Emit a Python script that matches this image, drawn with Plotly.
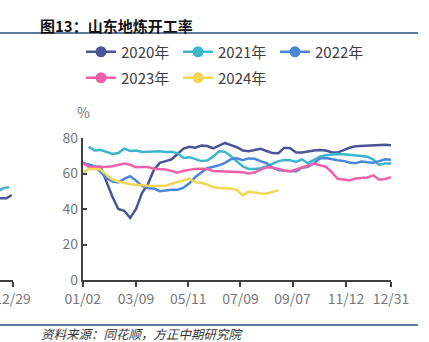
import plotly.graph_objects as go

W, H = 429, 342
# main plot area in pixels
PX0, PX1 = 82.7, 391.0
PT, PB = 138, 280  # y pixel of top (80) and bottom (0)

weeks = list(range(53))
tick_pos = [0, 9, 17.8, 26.6, 35.4, 44.4, 52]
tick_text = ["01/02", "03/09", "05/11", "07/09", "09/07", "11/12", "12/31"]

y2020 = [66, 65, 64, 63.8, 55, 47, 40, 39, 35, 40, 49, 54, 62, 66, 67, 68, 71, 74, 75, 74.5,
         75.7, 75.5, 74.2, 75.5, 77.2, 76, 74.8, 73, 72.5, 73.2, 73.9, 72.7, 71.5, 71.4, 74.5,
         74.2, 71.8, 71.9, 72.5, 73, 73.2, 73, 72, 71.8, 73.2, 74.5, 75.3, 75.5, 75.6, 76.2,
         76.4, 76.2, 75.9]
y2021 = [None, 75, 73, 73.3, 72, 71, 71.5, 74, 72.7, 73, 72.1, 72.2, 72.6, 72.6, 72.1, 72.3,
         71.5, 68.8, 69.2, 68.3, 67, 67.3, 69.5, 72.5, 72.2, 69.7, 66.6, 64, 62.6, 62.5, 63,
         64, 65.5, 67, 67.6, 67.5, 66.5, 68, 65.8, 67.8, 69.5, 70.3, 70.7, 71, 70.9, 70.7,
         70.4, 69.9, 69.4, 68, 64.9, 65.7, 65.7]
y2022 = [66, 64.8, 63.8, 61, 57.5, 55.5, 55, 57, 58.5, 56, 53, 51.7, 51.5, 50, 50.5, 50.8,
         50.8, 52, 54.5, 58, 60.6, 63, 63.8, 64.6, 66, 68, 68.6, 67.5, 68.5, 68.3, 67, 65.8,
         63.3, 62, 61.5, 61.2, 61.3, 63.3, 63.8, 65.6, 68.4, 68.7, 68, 67.5, 67.1, 66.2, 65.8,
         66.7, 66.3, 66, 67, 68, 67.7]
y2023 = [66, 63.8, 63.6, 63.5, 63.8, 64.1, 65, 65.6, 64.9, 63.5, 63.6, 63.6, 62.7, 62.5, 62.2,
         61.4, 60.5, 61.5, 62.2, 62.6, 62.7, 62.5, 61.4, 61.2, 61, 60.8, 60.7, 60.7, 60, 60.5,
         62.2, 63.5, 63.4, 62.4, 61.7, 61.1, 62.3, 63.3, 64.3, 65.6, 64.6, 63.8, 60.8, 57,
         56.6, 56.1, 57.2, 57.6, 57.8, 59, 56.5, 56.9, 57.9]
y2024 = [60.5, 62.6, 62.6, 62.3, 59.2, 56.5, 55.5, 54.6, 54, 53.6, 53.2, 53.1, 53, 53.1, 53.1,
         54.2, 55.2, 56.3, 57.1, 55, 54.8, 53.8, 52.2, 51.8, 51.7, 51.5, 50.7, 47.7, 49.8,
         49.4, 48.7, 48.8, 49.6, 50.5]

# fragment of the neighbouring chart visible at the left edge
nb_x_cyan = [-1, 0, 0.7, 1.5]
nb_y_cyan = [50, 50.7, 51.9, 52.2]
nb_x_navy = [-1, 0, 1.1, 1.97]
nb_y_navy = [46, 46, 46, 47.9]

names = ["2020年", "2021年", "2022年", "2023年", "2024年"]
colors = ["#4a5499", "#3cb6cc", "#4a87d7", "#f260a8", "#f5d653"]
series = [y2020, y2021, y2022, y2023, y2024]

fig = go.Figure()
for name, col, ys in zip(names, colors, series):
    fig.add_trace(go.Scatter(x=weeks[:len(ys)], y=ys, mode="lines", name=name,
                             line=dict(color=col, width=2.5), showlegend=False,
                             xaxis="x", yaxis="y"))
# legend entries
for i, (name, col) in enumerate(zip(names, colors)):
    fig.add_trace(go.Scatter(x=[None], y=[None], mode="lines+markers", name=name,
                             line=dict(color=col, width=2.5),
                             marker=dict(color=col, size=11),
                             legend="legend" if i < 3 else "legend2"))

fig.add_trace(go.Scatter(x=nb_x_cyan, y=nb_y_cyan, mode="lines", showlegend=False,
                         line=dict(color=colors[1], width=2.5), xaxis="x2", yaxis="y2"))
fig.add_trace(go.Scatter(x=nb_x_navy, y=nb_y_navy, mode="lines", showlegend=False,
                         line=dict(color=colors[0], width=2.5), xaxis="x2", yaxis="y2"))

def py(p):
    return (PB - p) / (PB - PT)

FONT = "Noto Sans CJK SC"
axis_col = "#404040"
lab_col = "#777777"

leg_common = dict(orientation="h", xanchor="left", yanchor="middle", entrywidth=52,
                  font=dict(size=15, color="#404040", family=FONT),
                  bgcolor="rgba(0,0,0,0)", itemwidth=30)

fig.update_layout(
    width=W, height=H,
    margin=dict(l=0, r=0, t=PT, b=H - PB, autoexpand=False),
    paper_bgcolor="white", plot_bgcolor="white",
    font=dict(family=FONT),
    xaxis=dict(domain=[PX0 / W, PX1 / W], range=[0, 52], tickvals=tick_pos, ticktext=tick_text,
               showline=True, linecolor=axis_col, linewidth=1.5, ticks="outside", ticklen=5,
               tickcolor=axis_col, tickwidth=1.5, showgrid=False, zeroline=False,
               automargin=False, ticklabeloverflow="allow",
               tickfont=dict(size=14, color=lab_col, family=FONT), anchor="y"),
    yaxis=dict(range=[0, 80], tickvals=[0, 20, 40, 60, 80], showline=True, linecolor=axis_col,
               linewidth=1.5, ticks="inside", ticklen=5, tickcolor=axis_col, tickwidth=1.5,
               showgrid=False, zeroline=False, anchor="x", automargin=False,
               tickfont=dict(size=14, color=lab_col, family=FONT)),
    xaxis2=dict(domain=[0, 12.5 / W], range=[0, 2.1], tickvals=[2.1], ticktext=["12/29"],
                showline=True, linecolor=axis_col, linewidth=1.5, ticks="outside", ticklen=5,
                tickcolor=axis_col, tickwidth=1.5, showgrid=False, zeroline=False, anchor="y2",
                automargin=False, ticklabeloverflow="allow",
                tickfont=dict(size=14, color=lab_col, family=FONT)),
    yaxis2=dict(range=[0, 80], visible=False, anchor="x2", showgrid=False, zeroline=False,
                automargin=False),
    legend=dict(x=81 / W, y=py(52), **leg_common),
    legend2=dict(x=81 / W, y=py(78), **leg_common),
    showlegend=True,
)

fig.add_annotation(text="图13：山东地炼开工率", xref="paper", yref="paper", x=38 / W, y=py(25),
                   xanchor="left", yanchor="middle", showarrow=False,
                   font=dict(size=15, color="#111111", family=FONT, weight="bold"))
fig.add_annotation(text="%", xref="paper", yref="paper", x=83 / W, y=py(112),
                   xanchor="center", yanchor="middle", showarrow=False,
                   font=dict(size=14, color=lab_col, family=FONT))
fig.add_annotation(text="<i>资料来源：同花顺，方正中期研究院</i>", xref="paper", yref="paper",
                   x=40 / W, y=py(333.5), xanchor="left", yanchor="middle", showarrow=False,
                   borderpad=0,
                   font=dict(size=12.5, color="#333333", family=FONT))

rule_col = "#2b4f7e"
for yy in (33, 325):
    fig.add_shape(type="line", xref="paper", yref="paper", x0=0, x1=418 / W,
                  y0=py(yy), y1=py(yy), line=dict(color=rule_col, width=1.5))

fig.write_html("out.html")
